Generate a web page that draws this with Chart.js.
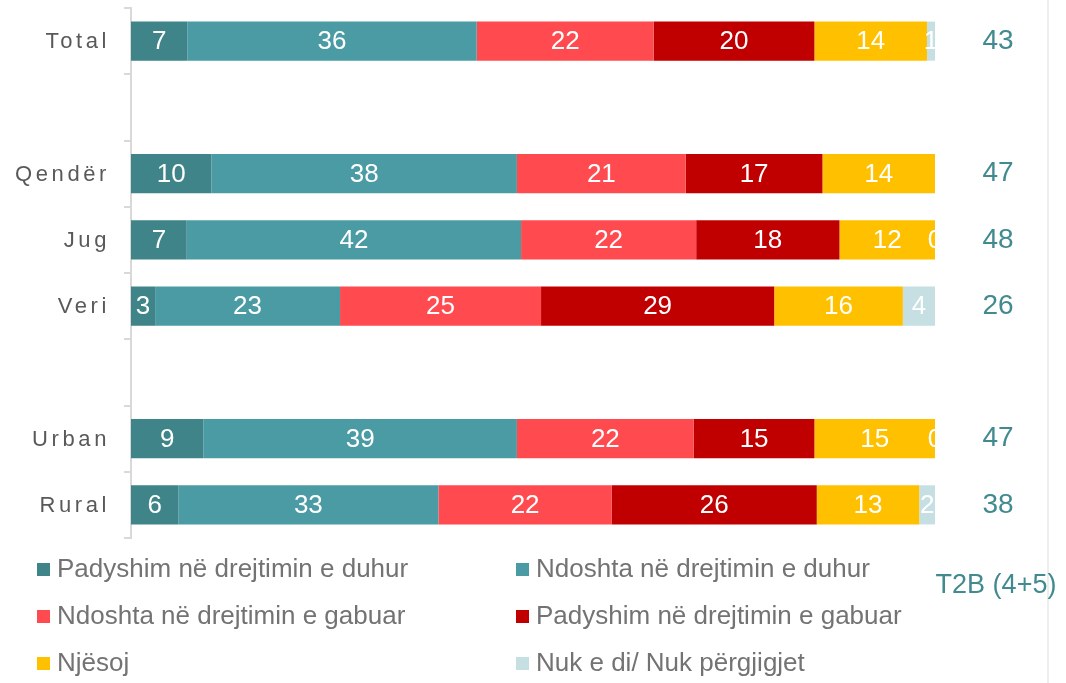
<!DOCTYPE html>
<html>
<head>
<meta charset="utf-8">
<script src="https://cdn.jsdelivr.net/npm/chart.js@4/dist/chart.umd.min.js"></script>
<style>
  html, body { margin: 0; padding: 0; background: #fff; }
  #wrap { position: relative; width: 1066px; height: 683px; }
</style>
</head>
<body>
<div id="wrap"><canvas id="chart" width="1066" height="683"></canvas></div>
<script>
const categories = ["Total", "", "Qendër", "Jug", "Veri", "", "Urban", "Rural"];
const seriesNames = [
  "Padyshim në drejtimin e duhur",
  "Ndoshta në drejtimin e duhur",
  "Ndoshta në drejtimin e gabuar",
  "Padyshim në drejtimin e gabuar",
  "Njësoj",
  "Nuk e di/ Nuk përgjigjet",
];
const seriesColors = ["#3e8489", "#4b9ba4", "#ff4b4f", "#c00000", "#ffc000", "#c5dfe3"];

const padyshimDuhur = [7, null, 10, 7, 3, null, 9, 6];
const ndoshtaDuhur = [36, null, 38, 42, 23, null, 39, 33];
const ndoshtaGabuar = [22, null, 21, 22, 25, null, 22, 22];
const padyshimGabuar = [20, null, 17, 18, 29, null, 15, 26];
const njesoj = [14, null, 14, 12, 16, null, 15, 13];
const nukDi = [1, null, null, 0, 4, null, 0, 2];
const t2bValues = [43, null, 47, 48, 26, null, 47, 38];
const t2bTitle = "T2B (4+5)";

const seriesValues = [padyshimDuhur, ndoshtaDuhur, ndoshtaGabuar, padyshimGabuar, njesoj, nukDi];

// 100% stacked: rounded labels don't always add to 100
const rowTotals = categories.map((_, i) =>
  seriesValues.reduce((sum, s) => sum + (s[i] || 0), 0),
);

const datasets = seriesValues.map((values, k) => ({
  label: seriesNames[k],
  raw: values,
  data: values.map((v, i) => (v === null ? null : (v / rowTotals[i]) * 100)),
  backgroundColor: seriesColors[k],
  borderWidth: 0,
  barPercentage: 0.59,
  categoryPercentage: 1,
}));

const labelFont = "'Liberation Sans', Arial, sans-serif";

const segmentLabels = {
  id: "segmentLabels",
  afterDatasetsDraw(chart) {
    const { ctx, chartArea } = chart;
    ctx.save();
    ctx.beginPath();
    ctx.rect(chartArea.left, chartArea.top, chartArea.right - chartArea.left, chartArea.bottom - chartArea.top);
    ctx.clip();
    ctx.font = `26px ${labelFont}`;
    ctx.fillStyle = "#ffffff";
    ctx.textAlign = "center";
    ctx.textBaseline = "middle";
    chart.data.datasets.forEach((ds, k) => {
      const meta = chart.getDatasetMeta(k);
      meta.data.forEach((bar, i) => {
        const v = ds.raw[i];
        if (v === null || v === undefined) return;
        ctx.fillText(String(v), (bar.x + bar.base) / 2, bar.y + 1);
      });
    });
    ctx.restore();
  },
};

const sideText = {
  id: "sideText",
  afterDraw(chart) {
    const { ctx } = chart;
    const yScale = chart.scales.y;
    ctx.save();

    // faint frame line on the right
    ctx.strokeStyle = "#eeeeee";
    ctx.lineWidth = 2;
    ctx.beginPath();
    ctx.moveTo(1048, 0);
    ctx.lineTo(1048, 683);
    ctx.stroke();

    // category labels, letter spaced
    ctx.font = `22px ${labelFont}`;
    ctx.fillStyle = "#595959";
    ctx.textAlign = "right";
    ctx.textBaseline = "middle";
    ctx.letterSpacing = "3.6px";
    categories.forEach((c, i) => {
      if (!c) return;
      ctx.fillText(c, 110, yScale.getPixelForValue(i) + 1);
    });
    ctx.letterSpacing = "0px";

    // T2B column
    ctx.font = `28px ${labelFont}`;
    ctx.fillStyle = "#418a8f";
    ctx.textAlign = "center";
    t2bValues.forEach((v, i) => {
      if (v === null) return;
      ctx.fillText(String(v), 998, yScale.getPixelForValue(i));
    });
    ctx.font = `27px ${labelFont}`;
    ctx.fillText(t2bTitle, 996, 586);

    // legend, two columns
    ctx.font = `26px ${labelFont}`;
    ctx.textAlign = "left";
    const colX = [37, 516];
    const rowY = [569, 616, 663];
    chart.data.datasets.forEach((ds, k) => {
      const x = colX[k % 2];
      const y = rowY[Math.floor(k / 2)];
      ctx.fillStyle = ds.backgroundColor;
      ctx.fillRect(x, y - 6, 13, 13);
      ctx.fillStyle = "#737373";
      ctx.fillText(ds.label, x + 20, y + 1);
    });
    ctx.restore();
  },
};

new Chart(document.getElementById("chart"), {
  type: "bar",
  data: { labels: categories, datasets },
  options: {
    indexAxis: "y",
    responsive: false,
    animation: false,
    layout: { padding: { top: 8, bottom: 145, right: 131, left: 0 } },
    plugins: {
      legend: { display: false },
      tooltip: { enabled: false },
    },
    scales: {
      x: {
        stacked: true,
        min: 0,
        max: 100,
        display: false,
      },
      y: {
        stacked: true,
        afterFit: (scale) => {
          scale.width = 131;
        },
        ticks: { display: false },
        grid: {
          offset: true,
          drawOnChartArea: false,
          drawTicks: true,
          tickLength: 7,
          color: "#d9d9d9",
          lineWidth: 2,
        },
        border: { display: true, color: "#d9d9d9", width: 2 },
      },
    },
  },
  plugins: [segmentLabels, sideText],
});
</script>
</body>
</html>
